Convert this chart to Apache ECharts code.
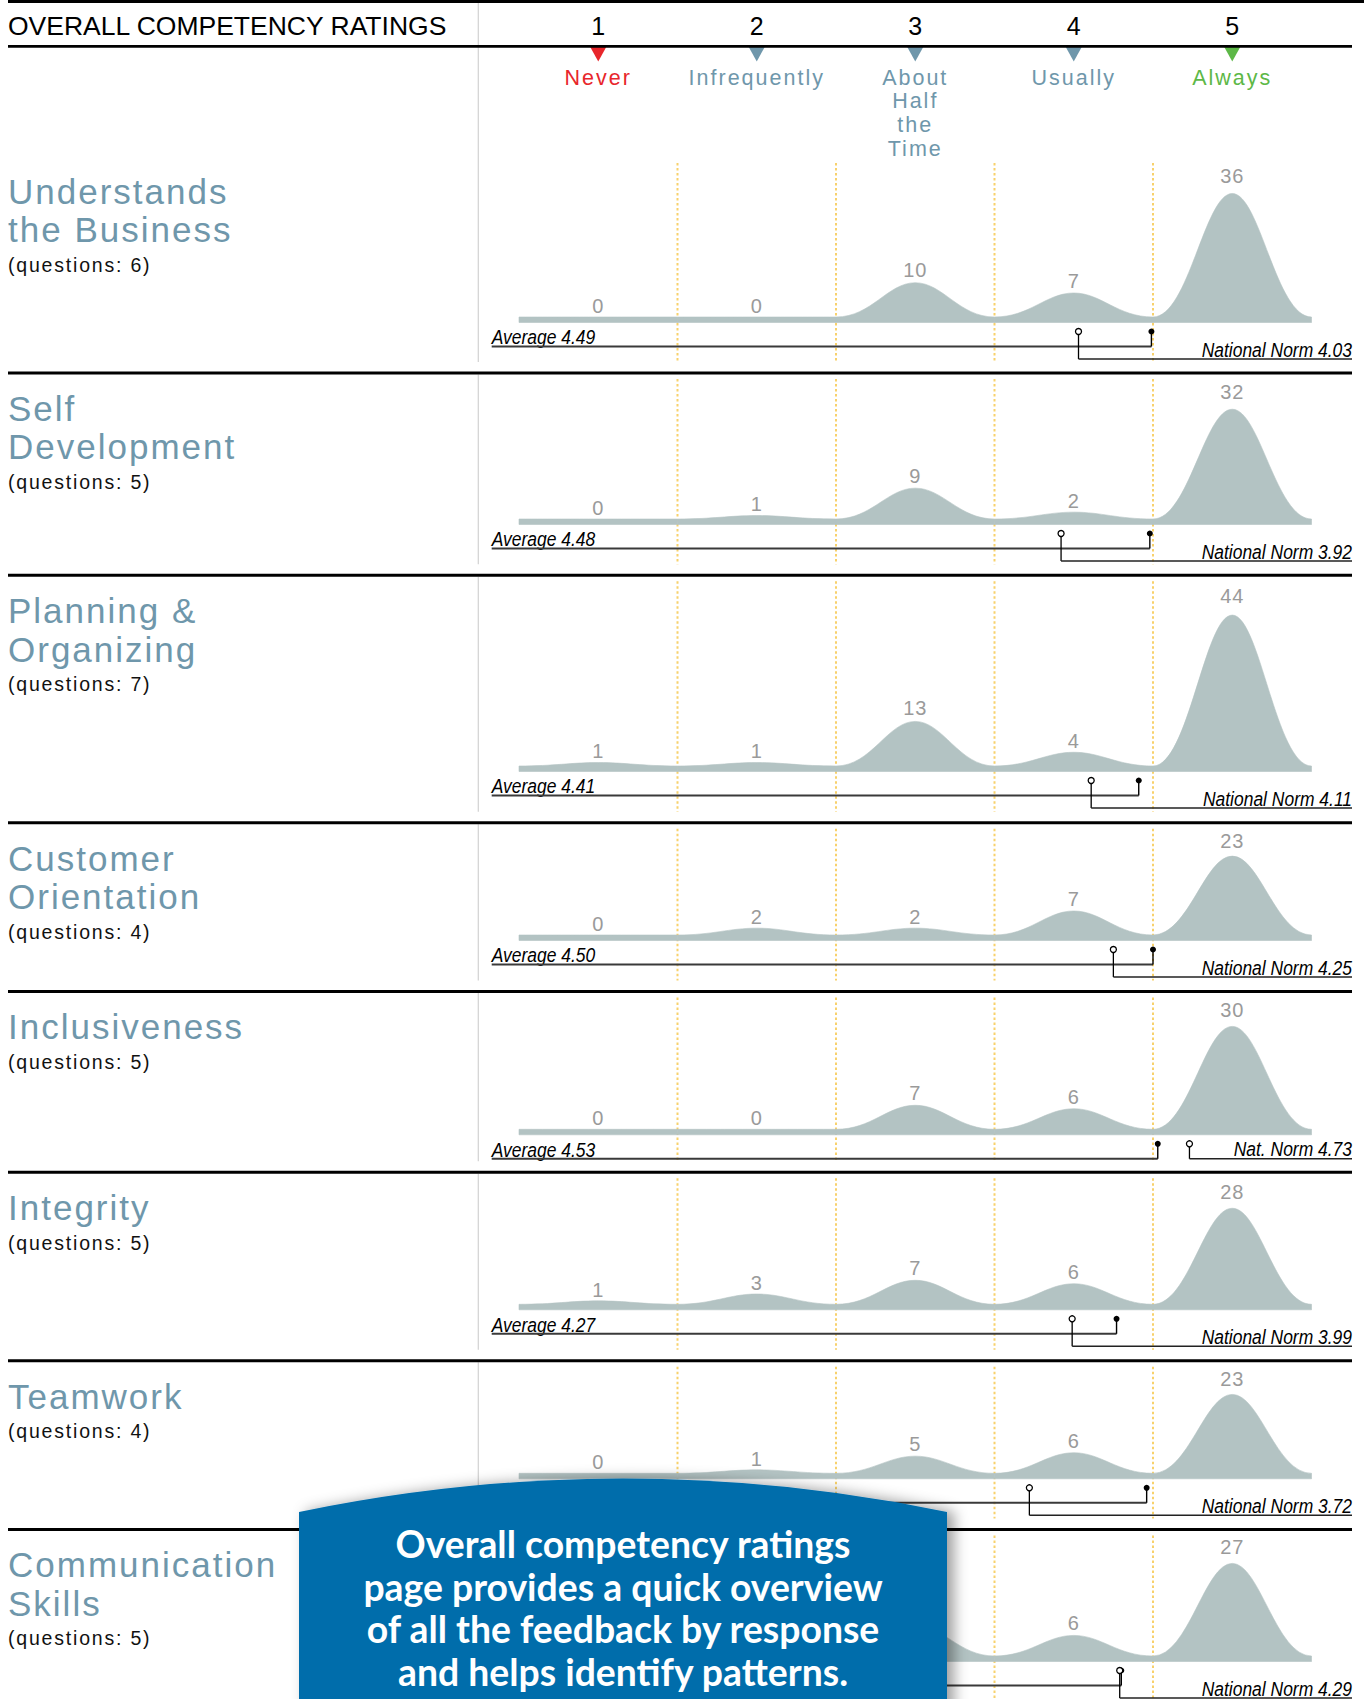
<!DOCTYPE html>
<html>
<head>
<meta charset="utf-8">
<title>Overall Competency Ratings</title>
<script src="https://cdn.jsdelivr.net/npm/echarts@6/dist/echarts.min.js"></script>
<style>
  html, body { margin: 0; padding: 0; background: #ffffff; }
  #chart { width: 1364px; height: 1699px; }
  /* tracked lettering for the headings (SVG renderer output) */
  #chart text[fill="#6f97ab"], #chart text[fill="#e8262b"], #chart text[fill="#5db847"] { letter-spacing: 2px; }
  #chart text[fill="#111111"] { letter-spacing: 1.8px; }
  #chart text[fill="#9a9a9a"] { letter-spacing: 1px; }
</style>
</head>
<body>
<div id="chart"></div>
<script>
// ---------- data ----------
const ratingNumbers = ['1', '2', '3', '4', '5'];
const ratingNames = ['Never', 'Infrequently', 'About\nHalf\nthe\nTime', 'Usually', 'Always'];
const competencies = [
  'Understands\nthe Business',
  'Self\nDevelopment',
  'Planning &\nOrganizing',
  'Customer\nOrientation',
  'Inclusiveness',
  'Integrity',
  'Teamwork',
  'Communication\nSkills'
];
const questionCounts = [6, 5, 7, 4, 5, 5, 4, 5];
// responses per rating (Never .. Always) for each competency
const responseCounts = [
  [0, 0, 10, 7, 36],
  [0, 1, 9, 2, 32],
  [1, 1, 13, 4, 44],
  [0, 2, 2, 7, 23],
  [0, 0, 7, 6, 30],
  [1, 3, 7, 6, 28],
  [0, 1, 5, 6, 23],
  [1, 1, 9, 6, 27]
];
const averages = [4.49, 4.48, 4.41, 4.50, 4.53, 4.27, 4.46, 4.30];
const nationalNorms = [4.03, 3.92, 4.11, 4.25, 4.73, 3.99, 3.72, 4.29];
const calloutLines = [
  'Overall competency ratings',
  'page provides a quick overview',
  'of all the feedback by response',
  'and helps identify patterns.'
];

// ---------- styles ----------
const COLORS = {
  fill: '#b3c3c3',
  label: '#9a9a9a',
  heading: '#6f97ab',
  never: '#e8262b',
  always: '#5db847',
  note: '#111111',
  guide: '#f8d16c',
  frame: '#d2d2d2',
  callout: '#066dab'
};
const ratingColors = [COLORS.never, COLORS.heading, COLORS.heading, COLORS.heading, COLORS.always];
const FONT = '"Liberation Sans", Arial, sans-serif';
const NOTE_FONT = 'italic 19.5px ' + FONT;
const NOTE_SCALE = 0.895;

// ---------- layout ----------
const W = 1364, H = 1699;
const PLOT_LEFT = 519, PLOT_RIGHT = 52.5;
const UNIT = 3.43;            // pixels per response
const Y_MAX = 50;
const BAND = 5.5;             // thickness of the base strip under the curves
const rowZero = [317, 519, 766, 935, 1129.3, 1304.3, 1473.3, 1656];
const rowRules = [373, 575.3, 822.8, 991.5, 1172.2, 1360.7, 1529.5];
const RIGHT_EDGE = 1352;
const FRAME_X = 478.3;
const NOTE_X = 491.7;

const chart = echarts.init(document.getElementById('chart'), null, { renderer: 'svg', width: W, height: H });

const grid = [], xAxis = [], yAxis = [], series = [];

rowZero.forEach((z, r) => {
  grid.push({ left: PLOT_LEFT, right: PLOT_RIGHT, top: z - Y_MAX * UNIT, height: Y_MAX * UNIT });
  xAxis.push({ type: 'value', gridIndex: r, min: 0.5, max: 5.5, show: false });
  yAxis.push({ type: 'value', gridIndex: r, min: 0, max: Y_MAX, show: false });

  const guideTop = r === 0 ? 163 : rowRules[r - 1] + 6;
  const guideBottom = r < rowRules.length ? rowRules[r] - 11 : H;

  // dotted dividers between rating columns
  series.push({
    type: 'custom', xAxisIndex: r, yAxisIndex: r, z: 1, silent: true, clip: false, animation: false,
    data: ratingNumbers.slice(1).map((_, k) => [k + 1.5]),
    renderItem: (p, api) => {
      const x = api.coord([api.value(0), 0])[0];
      return {
        type: 'line',
        shape: { x1: x, y1: guideTop, x2: x, y2: guideBottom },
        style: { stroke: COLORS.guide, lineWidth: 2, lineDash: [2.5, 2.5] }
      };
    }
  });

  // one smooth hump per rating, height = number of responses
  series.push({
    type: 'custom', xAxisIndex: r, yAxisIndex: r, z: 2, silent: true, clip: false, animation: false,
    data: responseCounts[r].map((v, k) => [k + 1, v]),
    renderItem: (p, api) => {
      const x = api.value(0), v = api.value(1);
      const base = api.coord([x, 0]);
      const cx = base[0], yb = base[1];
      const yp = api.coord([x, v])[1];
      const xl = api.coord([x - 0.5, 0])[0];
      const xr = api.coord([x + 0.5, 0])[0];
      const h = (xr - xl) / 2;
      const d = [
        'M', xl, yb + BAND, 'L', xl, yb,
        'C', xl + 0.45 * h, yb, cx - 0.35 * h, yp, cx, yp,
        'C', cx + 0.35 * h, yp, xr - 0.45 * h, yb, xr, yb,
        'L', xr, yb + BAND, 'Z'
      ].join(' ');
      const labelBase = yp - 4 - 0.055 * (yb - yp);
      return {
        type: 'group',
        children: [
          { type: 'path', shape: { pathData: d }, style: { fill: COLORS.fill, stroke: COLORS.fill, lineWidth: 0.6 } },
          {
            type: 'text', x: cx, y: labelBase - 6.9,
            style: { text: String(v), fill: COLORS.label, font: '20px ' + FONT, align: 'center', verticalAlign: 'middle' }
          }
        ]
      };
    }
  });

  // average and national norm markers
  series.push({
    type: 'custom', xAxisIndex: r, yAxisIndex: r, z: 3, silent: true, clip: false, animation: false,
    data: [[averages[r], nationalNorms[r]]],
    renderItem: (p, api) => {
      const avg = api.value(0), norm = api.value(1);
      const a = api.coord([avg, 0]);
      const ax = a[0], zy = a[1];
      const nx = api.coord([norm, 0])[0];
      const dotY = zy + 14.5, avgY = zy + 29.5;
      const shared = nx > ax;                 // norm sits right of the average: one shared rule
      const normY = shared ? avgY : zy + 42;
      return {
        type: 'group',
        children: [
          {
            type: 'text', x: NOTE_X, y: avgY - 2.2 - 6.76, scaleX: NOTE_SCALE,
            style: { text: 'Average ' + avg.toFixed(2), font: NOTE_FONT, fill: '#000', align: 'left', verticalAlign: 'middle' }
          },
          { type: 'line', shape: { x1: NOTE_X, y1: avgY, x2: ax, y2: avgY }, style: { stroke: '#3a3a3a', lineWidth: 1.9 } },
          { type: 'line', shape: { x1: ax, y1: dotY, x2: ax, y2: avgY }, style: { stroke: '#000', lineWidth: 1.4 } },
          { type: 'circle', shape: { cx: ax, cy: dotY, r: 3 }, style: { fill: '#000' } },
          { type: 'line', shape: { x1: nx, y1: dotY, x2: nx, y2: normY }, style: { stroke: '#000', lineWidth: 1.3 } },
          { type: 'line', shape: { x1: nx, y1: normY, x2: RIGHT_EDGE, y2: normY }, style: { stroke: '#222', lineWidth: 1.4 } },
          { type: 'circle', shape: { cx: nx, cy: dotY, r: 3 }, style: { fill: '#fff', stroke: '#000', lineWidth: 1.3 } },
          {
            type: 'text', x: RIGHT_EDGE, y: normY - 2.5 - 6.76, scaleX: NOTE_SCALE,
            style: {
              text: (shared ? 'Nat. Norm ' : 'National Norm ') + norm.toFixed(2),
              font: NOTE_FONT, fill: '#000', align: 'right', verticalAlign: 'middle'
            }
          }
        ]
      };
    }
  });
});

// rating scale header: number, pointer and description
series.push({
  type: 'custom', xAxisIndex: 0, yAxisIndex: 0, z: 3, silent: true, clip: false, animation: false,
  data: ratingNumbers.map((n, k) => [k + 1]),
  renderItem: (p, api) => {
    const k = p.dataIndex;
    const cx = api.coord([api.value(0), 0])[0];
    return {
      type: 'group',
      children: [
        {
          type: 'text', x: cx, y: 26.3,
          style: { text: ratingNumbers[k], font: '25px ' + FONT, fill: '#000', align: 'center', verticalAlign: 'middle' }
        },
        { type: 'polygon', shape: { points: [[cx - 8, 47], [cx + 8, 47], [cx, 61.5]] }, style: { fill: ratingColors[k] } },
        {
          type: 'text', x: cx, y: 65.6,
          style: {
            text: ratingNames[k], font: '21.5px ' + FONT, lineHeight: 23.8,
            fill: ratingColors[k], align: 'center', verticalAlign: 'top'
          }
        }
      ]
    };
  }
});

// call-out panel laid over the lower rows
const CALLOUT_SIZE = 38;
const CALLOUT_FONT = 'bold ' + CALLOUT_SIZE + 'px Lato, "Open Sans", sans-serif';
const measure = document.createElement('canvas').getContext('2d');
measure.font = CALLOUT_FONT;
const calloutScale = 456 / measure.measureText(calloutLines[0]).width;
series.push({
  type: 'custom', coordinateSystem: 'none', z: 50, silent: true, clip: false, animation: false,
  data: [[0]],
  renderItem: () => ({
    type: 'group',
    children: [
      {
        type: 'path',
        shape: { pathData: 'M299,1512 Q623,1445 947,1512 L947,1720 L299,1720 Z' },
        style: { fill: COLORS.callout, shadowBlur: 14, shadowOffsetX: 7, shadowOffsetY: 0, shadowColor: 'rgba(0,0,0,0.38)' }
      }
    ].concat(calloutLines.map((line, i) => ({
      type: 'text', x: 623, y: 1558 + i * 42.6 - 0.387 * CALLOUT_SIZE, scaleX: calloutScale,
      style: { text: line, font: CALLOUT_FONT, fill: '#ffffff', align: 'center', verticalAlign: 'middle' }
    })))
  })
});

// ---------- static page furniture ----------
const graphics = [];
graphics.push({ type: 'rect', z: 5, shape: { x: 8, y: 0, width: W - 8, height: 3 }, style: { fill: '#000' } });
graphics.push({ type: 'rect', z: 5, shape: { x: 8, y: 45, width: RIGHT_EDGE - 8, height: 2.8 }, style: { fill: '#000' } });
rowRules.forEach(y => {
  graphics.push({ type: 'rect', z: 5, shape: { x: 8, y: y - 1.5, width: RIGHT_EDGE - 8, height: 3 }, style: { fill: '#000' } });
});
// thin frame line left of the plots, one piece per row
const frameSpans = [[0, rowRules[0] - 11]];
rowRules.forEach((y, i) => {
  frameSpans.push([y + 1.5, i + 1 < rowRules.length ? rowRules[i + 1] - 11 : H]);
});
frameSpans.forEach(([y1, y2]) => {
  graphics.push({ type: 'line', z: 4, shape: { x1: FRAME_X, y1: y1, x2: FRAME_X, y2: y2 }, style: { stroke: COLORS.frame, lineWidth: 1.2 } });
});

graphics.push({
  type: 'text', z: 5, x: 8, y: 25.8,
  style: { text: 'OVERALL COMPETENCY RATINGS', font: '26.5px ' + FONT, fill: '#000', align: 'left', verticalAlign: 'middle' }
});

competencies.forEach((name, r) => {
  const baseline = r === 0 ? 203.3 : rowRules[r - 1] + 47.5;
  const lines = name.split('\n').length;
  graphics.push({
    type: 'text', z: 5, x: 8, y: baseline - 31.3,
    style: { text: name, font: '35px ' + FONT, lineHeight: 38.4, fill: COLORS.heading, align: 'left', verticalAlign: 'top' }
  });
  const qBase = baseline + (lines - 1) * 38.4 + 29.8;
  graphics.push({
    type: 'text', z: 5, x: 8, y: qBase - 6.76,
    style: { text: '(questions: ' + questionCounts[r] + ')', font: '19.5px ' + FONT, fill: COLORS.note, align: 'left', verticalAlign: 'middle' }
  });
});

chart.setOption({
  backgroundColor: '#ffffff',
  animation: false,
  grid: grid,
  xAxis: xAxis,
  yAxis: yAxis,
  series: series,
  graphic: { elements: graphics }
});
</script>
</body>
</html>
